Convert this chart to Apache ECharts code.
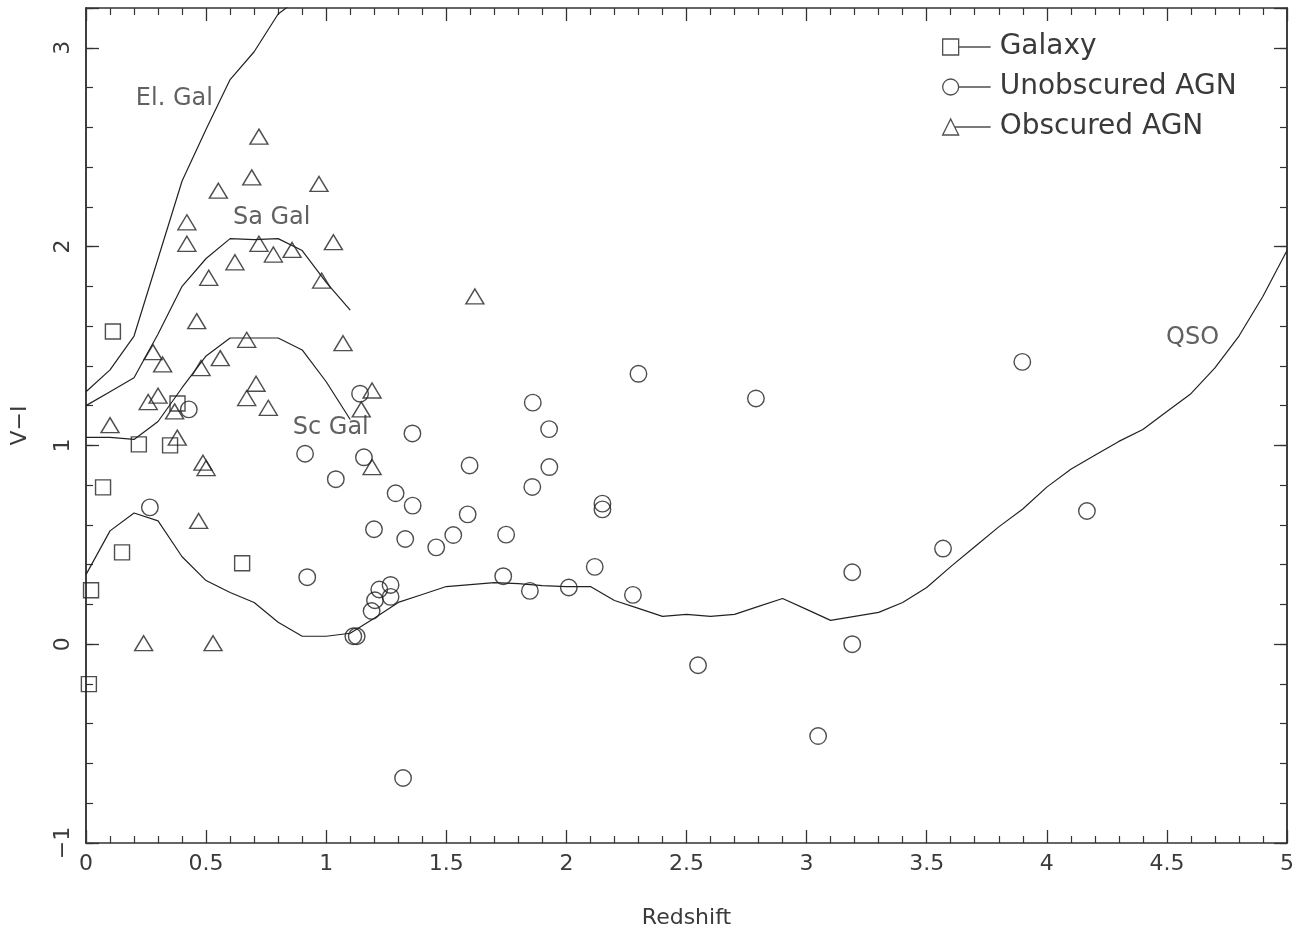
<!DOCTYPE html>
<html>
<head>
<meta charset="utf-8">
<script src="https://cdn.jsdelivr.net/npm/echarts/dist/echarts.min.js"></script>
<style>
  html, body { margin: 0; padding: 0; background: #fff; }
  #chart { width: 1306px; height: 934px; }
</style>
</head>
<body>
<div id="chart"></div>
<script>
// ---------- data ----------
const galaxy = [
  [0.112, 1.573], [0.071, 0.789], [0.150, 0.462], [0.021, 0.271], [0.012, -0.201],
  [0.220, 1.005], [0.350, 1.000], [0.381, 1.211], [0.650, 0.407]
];

const unobscured = [
  [0.266, 0.688], [0.428, 1.181], [0.912, 0.958], [0.921, 0.337], [1.040, 0.830],
  [1.113, 0.040], [1.127, 0.040], [1.141, 1.260], [1.157, 0.940], [1.189, 0.167],
  [1.199, 0.578], [1.203, 0.221], [1.221, 0.275], [1.268, 0.298], [1.268, 0.238],
  [1.289, 0.759], [1.320, -0.673], [1.329, 0.529], [1.360, 0.697], [1.359, 1.060],
  [1.458, 0.487], [1.529, 0.549], [1.589, 0.653], [1.597, 0.899], [1.737, 0.342],
  [1.749, 0.551], [1.848, 0.268], [1.858, 0.791], [1.860, 1.215], [1.928, 1.082],
  [1.929, 0.891], [2.010, 0.285], [2.118, 0.389], [2.150, 0.707], [2.150, 0.678],
  [2.277, 0.248], [2.300, 1.360], [2.548, -0.106], [2.789, 1.236], [3.048, -0.462],
  [3.190, 0.000], [3.190, 0.362], [3.568, 0.481], [3.898, 1.420], [4.167, 0.670]
];

const obscured = [
  [0.720, 2.553], [0.690, 2.348], [0.970, 2.315], [0.551, 2.281], [0.420, 2.122],
  [0.420, 2.014], [1.030, 2.022], [0.720, 2.014], [0.858, 1.983], [0.780, 1.960],
  [0.620, 1.921], [0.511, 1.843], [0.981, 1.829], [0.461, 1.625], [1.619, 1.749],
  [0.669, 1.531], [1.070, 1.514], [0.279, 1.469], [0.319, 1.407], [0.559, 1.439],
  [0.479, 1.389], [0.708, 1.310], [1.191, 1.276], [0.300, 1.250], [0.259, 1.218],
  [0.669, 1.238], [0.369, 1.171], [0.759, 1.189], [1.146, 1.181], [0.100, 1.102],
  [0.380, 1.039], [0.487, 0.913], [0.500, 0.886], [1.191, 0.891], [0.469, 0.620],
  [0.240, 0.005], [0.529, 0.005]
];

const elGal = [[0,1.27],[0.1,1.38],[0.2,1.55],[0.3,1.94],[0.4,2.33],[0.5,2.59],[0.6,2.84],[0.7,2.98],[0.8,3.17],[0.9,3.26]];
const saGal = [[0,1.20],[0.1,1.27],[0.2,1.34],[0.3,1.56],[0.4,1.80],[0.5,1.94],[0.6,2.04],[0.7,2.035],[0.8,2.04],[0.9,1.98],[1.0,1.82],[1.1,1.68]];
const scGal = [[0,1.04],[0.1,1.04],[0.2,1.03],[0.3,1.12],[0.4,1.29],[0.5,1.45],[0.6,1.54],[0.7,1.54],[0.8,1.54],[0.9,1.48],[1.0,1.32],[1.1,1.13]];
const qso = [
  [0,0.35],[0.1,0.57],[0.2,0.66],[0.3,0.62],[0.4,0.44],[0.5,0.32],[0.6,0.26],[0.7,0.21],[0.8,0.11],[0.9,0.04],
  [1.0,0.04],[1.1,0.055],[1.2,0.13],[1.3,0.21],[1.4,0.25],[1.5,0.29],[1.6,0.30],[1.7,0.31],[1.8,0.305],[1.9,0.295],
  [2.0,0.29],[2.1,0.29],[2.2,0.22],[2.3,0.18],[2.4,0.14],[2.5,0.15],[2.6,0.14],[2.7,0.15],[2.8,0.19],[2.9,0.23],
  [3.0,0.175],[3.1,0.12],[3.2,0.14],[3.3,0.16],[3.4,0.21],[3.5,0.285],[3.6,0.39],[3.7,0.49],[3.8,0.59],[3.9,0.68],
  [4.0,0.79],[4.1,0.88],[4.2,0.95],[4.3,1.02],[4.4,1.08],[4.5,1.17],[4.6,1.26],[4.7,1.39],[4.8,1.55],[4.9,1.75],[5.0,1.98]
];

const curveLabels = [
  [0.368, 2.744, 'El. Gal'],
  [0.773, 2.143, 'Sa Gal'],
  [1.019, 1.090, 'Sc Gal'],
  [4.607, 1.540, 'QSO']
];

const seriesNames = ['Galaxy', 'Unobscured AGN', 'Obscured AGN'];
const xTickLabels = ['0', '0.5', '1', '1.5', '2', '2.5', '3', '3.5', '4', '4.5', '5'];
const yTickLabels = ['\u22121', '0', '1', '2', '3'];
const xTitle = 'Redshift';
const yTitle = 'V\u2212I';

// ---------- chart ----------
const FONT = '"DejaVu Sans", "Liberation Sans", sans-serif';
const INK = '#222';
const TXT = '#3a3a3a';

const chart = echarts.init(document.getElementById('chart'), null, { renderer: 'canvas' });

const axisLineStyle = { show: true, onZero: false, lineStyle: { color: '#333', width: 1.5 } };

function xAxisCfg(pos, showLabels) {
  return {
    type: 'value', position: pos, min: 0, max: 5, interval: 0.5,
    axisLine: axisLineStyle,
    axisTick: { show: true, inside: true, length: 13, lineStyle: { color: '#333', width: 1.3 } },
    minorTick: { show: true, splitNumber: 5, length: 7, lineStyle: { color: '#333', width: 1.2 } },
    splitLine: { show: false },
    axisLabel: showLabels ? {
      show: true, margin: 10, fontSize: 22, color: TXT, fontFamily: FONT,
      formatter: function (v) { const i = Math.round(v / 0.5); return xTickLabels[i] !== undefined ? xTickLabels[i] : ''; }
    } : { show: false },
    name: showLabels ? xTitle : '',
    nameLocation: 'middle', nameGap: 64,
    nameTextStyle: { fontSize: 22, color: TXT, fontFamily: FONT }
  };
}

function yAxisCfg(pos, major, showLabels) {
  return {
    type: 'value', position: pos, min: -1, max: 3.2, interval: major ? 1 : 0.2,
    axisLine: axisLineStyle,
    axisTick: { show: true, inside: true, length: major ? 13 : 7, lineStyle: { color: '#333', width: major ? 1.3 : 1.2 } },
    splitLine: { show: false },
    axisLabel: showLabels ? {
      show: true, rotate: 90, margin: 12, fontSize: 22, color: TXT, fontFamily: FONT,
      formatter: function (v) {
        const r = Math.round(v);
        if (Math.abs(v - r) > 1e-6 || r > 3) return '';
        return yTickLabels[r + 1];
      }
    } : { show: false },
    name: showLabels ? yTitle : '',
    nameLocation: 'middle', nameGap: 55, nameRotate: 90,
    nameTextStyle: { fontSize: 22, color: TXT, fontFamily: FONT }
  };
}

const markerStyle = { color: 'rgba(0,0,0,0)', borderColor: INK, borderWidth: 1.4 };
const lineStyle = { color: INK, width: 1.2 };

function curve(name, data) {
  return {
    name: name, type: 'line', data: data, showSymbol: false, symbol: 'none',
    lineStyle: lineStyle, silent: true, clip: true, z: 2
  };
}

const option = {
  backgroundColor: '#fff',
  animation: false,
  grid: { left: 86, right: 19, top: 8, bottom: 91, containLabel: false },
  xAxis: [xAxisCfg('bottom', true), xAxisCfg('top', false)],
  yAxis: [
    yAxisCfg('left', false, true),
    yAxisCfg('left', true, false),
    yAxisCfg('right', false, false),
    yAxisCfg('right', true, false)
  ],
  legend: {
    orient: 'vertical', left: 942, top: 32, padding: 0,
    itemWidth: 48, itemHeight: 16, itemGap: 10,
    selectedMode: false,
    itemStyle: { color: 'rgba(0,0,0,0)', borderColor: INK, borderWidth: 1.3 },
    textStyle: { fontSize: 28, color: TXT, fontFamily: FONT, lineHeight: 30, padding: [0, 0, 0, 4] },
    data: [
      { name: seriesNames[0], icon: 'path://M0,0L16,0L16,16L0,16ZM16,8L48,8' },
      { name: seriesNames[1], icon: 'path://M0,8A8,8,0,1,1,16,8A8,8,0,1,1,0,8ZM16,8L48,8' },
      { name: seriesNames[2], icon: 'path://M0,16L8,0L16,16ZM12,8L48,8' }
    ]
  },
  series: [
    curve('El. Gal curve', elGal),
    curve('Sa Gal curve', saGal),
    curve('Sc Gal curve', scGal),
    curve('QSO curve', qso),
    { name: seriesNames[0], type: 'scatter', data: galaxy, symbol: 'rect', symbolSize: 15, itemStyle: markerStyle, z: 3 },
    { name: seriesNames[1], type: 'scatter', data: unobscured, symbol: 'circle', symbolSize: 16.5, itemStyle: markerStyle, z: 3 },
    { name: seriesNames[2], type: 'scatter', data: obscured, symbol: 'triangle', symbolSize: [18, 15], itemStyle: markerStyle, z: 3 },
    {
      name: 'curve labels', type: 'scatter', data: curveLabels, symbolSize: 1,
      itemStyle: { color: 'rgba(0,0,0,0)' }, silent: true, z: 4,
      label: {
        show: true, position: 'inside', fontSize: 24, color: TXT, fontFamily: FONT,
        formatter: function (p) { return p.data[2]; }
      }
    }
  ]
};

chart.setOption(option);
</script>
</body>
</html>
